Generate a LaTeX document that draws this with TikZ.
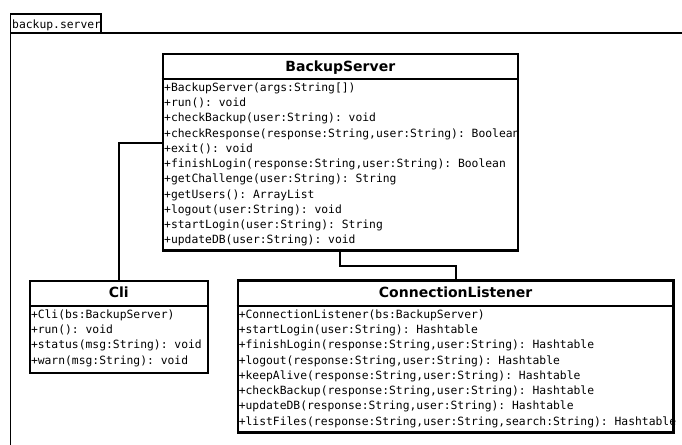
\documentclass[tikz,border=0pt]{standalone}
\usepackage{fontspec}
\setmainfont{DejaVu Sans}
\setmonofont{DejaVu Sans Mono}
\usetikzlibrary{calc}

\newcommand{\opsfont}{\ttfamily\fontsize{11.35}{15.25}\selectfont}

\tikzset{
  classbox/.style={draw, line width=2.2pt, rectangle, anchor=north west, inner sep=0pt},
  divider/.style={line width=2.2pt},
  classtitle/.style={font=\bfseries\fontsize{14}{16}\selectfont, anchor=base, inner sep=0pt},
  ops/.style={font=\opsfont, anchor=base west, inner sep=0pt, align=left},
  link/.style={draw, line width=2pt},
  pkg/.style={line width=1.8pt},
}

% operation list typed as one top-aligned column
\newcommand{\oplist}[1]{\begin{tabular}[t]{@{}l@{}}#1\end{tabular}}

\begin{document}
\begin{tikzpicture}[x=1pt, y=-1pt]
  \useasboundingbox (0,0) rectangle (682,444);

  % package frame with its name tab
  \draw[pkg] (10.5,33.3) rectangle (100.8,14.3);
  \node[font=\opsfont, anchor=base west, inner sep=0pt] (pkgname) at (12,28.3) {backup.server};
  \draw[pkg] (684,33.3) -- (10.5,33.3) -- (10.5,446);

  % ---- BackupServer ----
  \node[ops] (bsops) at (164,91.3) {\oplist{%
    +BackupServer(args:String[])\\
    +run(): void\\
    +checkBackup(user:String): void\\
    +checkResponse(response:String,user:String): Boolean\\
    +exit(): void\\
    +finishLogin(response:String,user:String): Boolean\\
    +getChallenge(user:String): String\\
    +getUsers(): ArrayList\\
    +logout(user:String): void\\
    +startLogin(user:String): String\\
    +updateDB(user:String): void}};
  \node[classbox, minimum width=355pt, minimum height=196.6pt] (bs) at (161.7,52.7) {};
  \draw[divider] ([yshift=-26.3pt]bs.north west) -- ([yshift=-26.3pt]bs.north east);
  \node[classtitle] (bstitle) at ([yshift=-18.3pt]bs.north) {BackupServer};

  % ---- Cli ----
  \node[ops] (cliops) at (30.8,318.3) {\oplist{%
    +Cli(bs:BackupServer)\\
    +run(): void\\
    +status(msg:String): void\\
    +warn(msg:String): void}};
  \node[classbox, minimum width=177.5pt, minimum height=92.2pt] (cli) at (29,279.5) {};
  \draw[divider] ([yshift=-26.2pt]cli.north west) -- ([yshift=-26.2pt]cli.north east);
  \node[classtitle] (clititle) at ([yshift=-18.2pt]cli.north) {Cli};

  % ---- ConnectionListener ----
  \node[ops] (clops) at (238.6,318.3) {\oplist{%
    +ConnectionListener(bs:BackupServer)\\
    +startLogin(user:String): Hashtable\\
    +finishLogin(response:String,user:String): Hashtable\\
    +logout(response:String,user:String): Hashtable\\
    +keepAlive(response:String,user:String): Hashtable\\
    +checkBackup(response:String,user:String): Hashtable\\
    +updateDB(response:String,user:String): Hashtable\\
    +listFiles(response:String,user:String,search:String): Hashtable}};
  \node[classbox, minimum width=435.6pt, minimum height=152pt] (cl) at (236.7,279.3) {};
  \draw[divider] ([yshift=-26.4pt]cl.north west) -- ([yshift=-26.4pt]cl.north east);
  \node[classtitle] (cltitle) at ([yshift=-18.4pt]cl.north) {ConnectionListener};

  % ---- associations ----
  \draw[link] ([yshift=8.8pt]bs.west) -| (cli.north);
  \draw[link] (bs.south) -- ++(0,14) -| (cl.north);
\end{tikzpicture}
\end{document}
